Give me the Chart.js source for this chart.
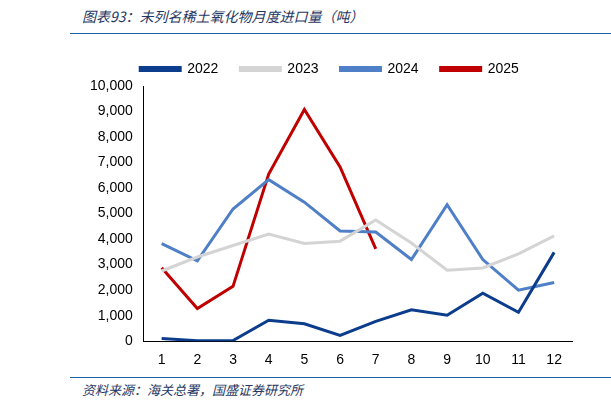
<!DOCTYPE html>
<html><head><meta charset="utf-8">
<script src="https://cdn.jsdelivr.net/npm/chart.js@4"></script>
<style>
body{margin:0;width:611px;height:410px;background:#fff;position:relative;overflow:hidden;font-family:"Noto Sans CJK SC",sans-serif}
#t{position:absolute;left:82px;top:6px;font-size:14px;font-style:italic;color:#1f3864}
#l1{position:absolute;left:70px;top:33px;width:541px;height:1px;background:#1f5fa8}
#l2{position:absolute;left:70px;top:377px;width:541px;height:1px;background:#1f5fa8}
#s{position:absolute;left:82px;top:380px;font-size:13px;font-style:italic;color:#1f3864}
#c{position:absolute;left:87px;top:40px;width:510px;height:332px}
</style></head><body>
<div id="t">图表93：未列名稀土氧化物月度进口量（吨）</div>
<div id="l1"></div><div id="l2"></div>
<div id="s">资料来源：海关总署，国盛证券研究所</div>
<div id="c"><canvas id="cv"></canvas></div>
<script>
const categories=["1","2","3","4","5","6","7","8","9","10","11","12"];
const s2022=[110,20,30,820,680,230,780,1230,1020,1880,1130,3480];
const s2023=[2750,3300,3750,4200,3830,3920,4750,3850,2780,2870,3420,4130];
const s2024=[3820,3150,5180,6330,5450,4320,4280,3200,5350,3200,2000,2300];
const s2025=[2880,1280,2150,6550,9080,6830,3620];
const mk=(l,d,c)=>({label:l,data:d,borderColor:c,backgroundColor:c,borderWidth:3,pointRadius:0,tension:0});
new Chart(document.getElementById('cv'),{type:'line',
data:{labels:categories,datasets:[mk('2022',s2022,'#0c3c8c'),mk('2023',s2023,'#d4d4d4'),mk('2024',s2024,'#4f7fc6'),mk('2025',s2025,'#c00000')]},
options:{responsive:true,maintainAspectRatio:false,animation:false,
layout:{padding:{right:25}},
plugins:{legend:{labels:{boxWidth:40,boxHeight:3,font:{size:14},color:'#000',padding:22}},tooltip:{enabled:false}},
scales:{x:{offset:true,grid:{display:false},border:{color:'#000'},ticks:{color:'#000',font:{size:14}}},
y:{min:0,max:10000,ticks:{stepSize:1000,color:'#000',font:{size:14},callback:v=>v.toLocaleString('en-US')},grid:{display:false},border:{color:'#000'}}}}});
</script></body></html>
